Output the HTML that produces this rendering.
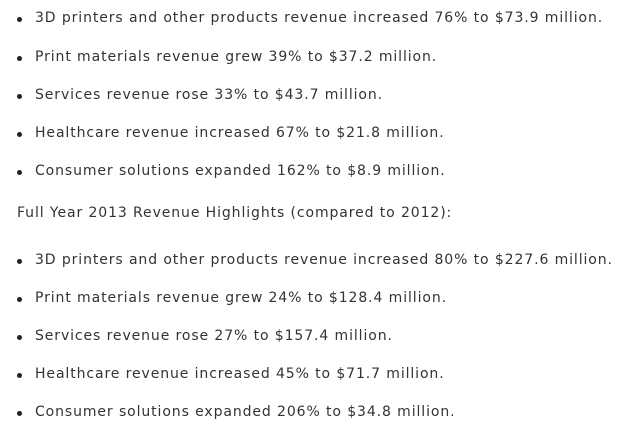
<!DOCTYPE html>
<html><head><meta charset="utf-8"><style>
html,body{margin:0;padding:0;background:#fff;width:640px;height:430px;overflow:hidden}
.l{position:absolute;left:0;height:20px;line-height:20px;font-family:"DejaVu Sans","Liberation Sans",sans-serif;font-size:14px;letter-spacing:0.9px;color:#333;white-space:nowrap}
.b{position:absolute;left:17px;top:9px;width:5px;height:5px;border-radius:50%;background:#222}
.t{position:absolute;left:35px}
.h .t{left:17px}
</style></head><body>
<div class="l" style="top:8px"><span class="b"></span><span class="t">3D printers and other products revenue increased 76% to $73.9 million.</span></div>
<div class="l" style="top:47px"><span class="b"></span><span class="t">Print materials revenue grew 39% to $37.2 million.</span></div>
<div class="l" style="top:85px"><span class="b"></span><span class="t">Services revenue rose 33% to $43.7 million.</span></div>
<div class="l" style="top:123px"><span class="b"></span><span class="t">Healthcare revenue increased 67% to $21.8 million.</span></div>
<div class="l" style="top:161px"><span class="b"></span><span class="t">Consumer solutions expanded 162% to $8.9 million.</span></div>
<div class="l h" style="top:203px"><span class="t">Full Year 2013 Revenue Highlights (compared to 2012):</span></div>
<div class="l" style="top:250px"><span class="b"></span><span class="t">3D printers and other products revenue increased 80% to $227.6 million.</span></div>
<div class="l" style="top:288px"><span class="b"></span><span class="t">Print materials revenue grew 24% to $128.4 million.</span></div>
<div class="l" style="top:326px"><span class="b"></span><span class="t">Services revenue rose 27% to $157.4 million.</span></div>
<div class="l" style="top:364px"><span class="b"></span><span class="t">Healthcare revenue increased 45% to $71.7 million.</span></div>
<div class="l" style="top:402px"><span class="b"></span><span class="t">Consumer solutions expanded 206% to $34.8 million.</span></div>
</body></html>
